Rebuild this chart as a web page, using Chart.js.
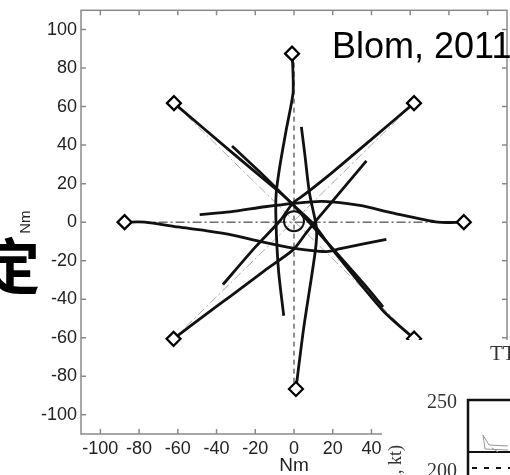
<!DOCTYPE html>
<html lang="en">
<head>
<meta charset="UTF-8">
<title>Blom, 2011</title>
<script src="https://cdn.jsdelivr.net/npm/chart.js"></script>
<style>
  html, body { margin: 0; padding: 0; background: #fff; }
</style>
</head>
<body>
<canvas id="myChart" width="510" height="475"></canvas>
<script>
// tick labels
const xTicks = [-100, -80, -60, -40, -20, 0, 20, 40, 60, 80, 100];
const yTicks = [-100, -80, -60, -40, -20, 0, 20, 40, 60, 80, 100];
const xLabelMax = 40;   // labels further right are hidden under the overlapping figure

// waypoints (diamonds), Nm
const wayX = [-1, 62, 87.7, 62, 1, -62.2, -87.5, -62];
const wayY = [87.5, 61.8, 0, -60.5, -86.6, -60.6, 0, 61.8];

// flown trajectories [x, y] in Nm
const trackN  = [[-1, 87.5], [-0.6, 80], [-0.5, 67], [-4, 48], [-7, 31], [-9.2, 15], [-9.3, 0], [-8, -25], [-5.3, -48.6]];
const trackS  = [[1, -86.6], [5, -55], [11, -15], [11.6, -3], [8, 15], [5.5, 36], [3.8, 49.5]];
const trackW  = [[-87.5, 0], [-77, 0], [-60, -2.5], [-45, -4.5], [-31.7, -6.7], [-17.7, -10], [-0.5, -13.5], [12, -15], [18, -15.2], [24, -13.8], [47.7, -8.9]];
const trackE  = [[87.7, 0], [74.4, 0], [50, 5], [34, 8.7], [15, 10.8], [0, 9.8], [-15, 8], [-33, 5.3], [-48.7, 3.9]];
const trackNW = [[-62, 61.8], [-33, 37], [-9, 16.8], [-1, 9.6], [10, -2.5], [22, -16], [36, -32], [46, -44]];
const trackSE = [[62, -60.5], [46, -46], [20, -14.4], [9.8, -0.7], [0, 8.5], [-15, 23.5], [-32, 39.5]];
const trackNE = [[62, 61.8], [40, 43], [20, 26], [5, 14], [-0.5, 10], [-7, 1], [-20, -13], [-36.7, -32.4]];
const trackSW = [[-62.2, -60.6], [-45, -47.5], [-31.5, -37.5], [-15, -25], [-0.5, -14.4], [6, -6], [11.6, 1], [25, 17], [37.4, 31.8]];

// reference routes
const refVert  = [[0, 87.5], [0, -86.6]];
const refHoriz = [[-87.5, 0], [87.7, 0]];
const refDiag1 = [[-62.2, -60.6], [62, 61.8]];
const refDiag2 = [[-62, 61.8], [62, -60.5]];
const centre = [[0, 0.5]];

const toPts = arr => arr.map(p => ({x: p[0], y: p[1]}));

function track(arr) {
    return { data: toPts(arr), showLine: true, borderColor: '#111', borderWidth: 2.8,
             pointRadius: 0, tension: 0.25, fill: false };
}
function refLine(arr, color, dash) {
    return { data: toPts(arr), showLine: true, borderColor: color, borderWidth: 1,
             borderDash: dash, pointRadius: 0, fill: false };
}

const frame = {
    id: 'frame',
    afterDraw(chart) {
        const c = chart.ctx, a = chart.chartArea;
        const xs = chart.scales.x, ys = chart.scales.y;
        c.save();
        // axes box with inward ticks
        c.strokeStyle = '#8a8a8a';
        c.lineWidth = 1.5;
        c.strokeRect(a.left, a.top, a.right - a.left, a.bottom - a.top);
        c.beginPath();
        xTicks.forEach(v => {
            const p = xs.getPixelForValue(v);
            c.moveTo(p, a.bottom); c.lineTo(p, a.bottom - 5);
            c.moveTo(p, a.top); c.lineTo(p, a.top + 5);
        });
        yTicks.forEach(v => {
            const p = ys.getPixelForValue(v);
            c.moveTo(a.left, p); c.lineTo(a.left + 5, p);
            c.moveTo(a.right, p); c.lineTo(a.right - 5, p);
        });
        c.stroke();

        c.fillStyle = '#000';
        c.font = '36px "Liberation Sans", Arial, sans-serif';
        c.textAlign = 'left';
        c.textBaseline = 'alphabetic';
        c.fillText('Blom, 2011', 332, 58);

        c.font = 'bold 60px "Noto Sans CJK SC", sans-serif';
        c.textBaseline = 'middle';
        c.fillText('定', -20, 266);

        // overlapping second figure at bottom right
        c.fillStyle = '#fff';
        c.fillRect(382, 340, 128, 135);
        c.strokeStyle = '#111';
        c.lineWidth = 2.5;
        c.beginPath();
        c.moveTo(468, 475); c.lineTo(468, 400); c.lineTo(510, 400);
        c.stroke();
        c.lineWidth = 2;
        c.beginPath();
        c.moveTo(468, 452); c.lineTo(510, 452);
        c.stroke();
        c.setLineDash([5, 7]);
        c.beginPath();
        c.moveTo(472, 468); c.lineTo(510, 468);
        c.stroke();
        c.setLineDash([]);
        // small aircraft sketch
        c.strokeStyle = '#999';
        c.lineWidth = 1;
        c.beginPath();
        c.moveTo(483, 435); c.lineTo(489, 445); c.lineTo(508, 446);
        c.moveTo(483, 435); c.lineTo(485, 449); c.lineTo(508, 450);
        c.moveTo(492, 448); c.lineTo(498, 452);
        c.stroke();

        c.fillStyle = '#333';
        c.font = '20px "Liberation Serif", "Times New Roman", serif';
        c.textAlign = 'right';
        c.textBaseline = 'alphabetic';
        c.fillText('250', 457, 408);
        c.fillText('200', 457, 477);
        c.textAlign = 'left';
        c.font = '21px "Liberation Serif", "Times New Roman", serif';
        c.fillText('TTI', 490, 360);
        c.translate(401, 445);
        c.rotate(-Math.PI / 2);
        c.textAlign = 'right';
        c.font = '18px "Liberation Serif", "Times New Roman", serif';
        c.fillText('Speed, kt)', 0, 0);
        c.restore();
    }
};

const sans = '"Liberation Sans", Arial, sans-serif';

new Chart(document.getElementById('myChart').getContext('2d'), {
    type: 'scatter',
    data: {
        datasets: [
            { data: toPts(wayX.map((x, i) => [x, wayY[i]])), pointStyle: 'rectRot', pointRadius: 7,
              borderWidth: 2.2, borderColor: '#000', backgroundColor: '#fff' },
            { data: toPts(centre), pointStyle: 'circle', pointRadius: 10, borderWidth: 2,
              borderColor: '#111', backgroundColor: 'rgba(0,0,0,0)' },
            track(trackN), track(trackS), track(trackW), track(trackE),
            track(trackNW), track(trackSE), track(trackNE), track(trackSW),
            refLine(refVert, '#222', [5, 4]),
            refLine(refHoriz, '#222', [9, 3, 2, 3]),
            refLine(refDiag1, '#aaa', [9, 3, 2, 3]),
            refLine(refDiag2, '#aaa', [9, 3, 2, 3])
        ]
    },
    options: {
        responsive: false,
        animation: false,
        layout: { autoPadding: false, padding: { left: 0, right: 3, top: 7, bottom: 0 } },
        plugins: { legend: { display: false }, tooltip: { enabled: false } },
        scales: {
            x: {
                min: -110, max: 110,
                grid: { display: false, drawTicks: false, tickLength: 0 }, border: { display: false },
                afterBuildTicks: s => { s.ticks = xTicks.map(v => ({ value: v })); },
                afterFit: s => { s.height = 41; },
                ticks: { font: { family: sans, size: 18 }, color: '#222', padding: 4,
                         autoSkip: false, maxRotation: 0,
                         callback: v => (v > xLabelMax ? '' : String(v)) },
                title: { display: true, text: 'Nm', color: '#222', padding: { top: 0, bottom: 0 },
                         font: { family: sans, size: 19, lineHeight: 1 } }
            },
            y: {
                min: -110, max: 110,
                grid: { display: false, drawTicks: false, tickLength: 0 }, border: { display: false },
                afterBuildTicks: s => { s.ticks = yTicks.map(v => ({ value: v })); },
                afterFit: s => { s.width = 81; },
                ticks: { font: { family: sans, size: 18, lineHeight: 0.7 }, color: '#222', padding: 4, autoSkip: false },
                title: { display: true, text: 'Nm', color: '#222', padding: { top: 17, bottom: 0 },
                         font: { family: sans, size: 15 } }
            }
        }
    },
    plugins: [frame]
});
</script>
</body>
</html>
